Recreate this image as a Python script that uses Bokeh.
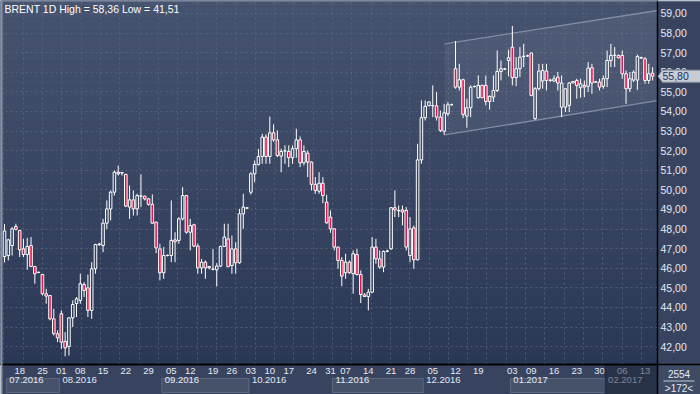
from bokeh.plotting import figure
from bokeh.models import FixedTicker, LinearAxis, Label, ColumnDataSource, Range1d, GridBox, Column
from bokeh.core.properties import value
from bokeh.embed import file_html
from bokeh.resources import INLINE

# ---------------- data ----------------
opens = [46.60, 46.65, 47.16, 48.13, 47.93, 46.99, 46.70, 47.16, 46.09, 45.78,
         45.68, 44.70, 44.61, 43.42, 42.66, 43.68, 42.27, 42.01, 43.47, 44.20,
         44.36, 45.17, 45.00, 43.85, 45.97, 47.20, 47.16, 48.30, 49.03, 49.88,
         50.90, 50.86, 50.79, 49.12, 49.49, 49.03, 49.68, 49.68, 49.54, 49.26,
         48.35, 46.99, 45.77, 46.65, 46.65, 47.45, 47.42, 48.52, 49.71, 47.84,
         48.22, 47.13, 46.02, 46.31, 46.09, 45.96, 45.92, 46.11, 47.11, 47.50,
         46.14, 46.99, 46.28, 48.78, 49.07, 49.88, 50.82, 51.30, 51.70, 52.69,
         51.70, 52.91, 52.55, 51.72, 51.98, 51.96, 51.64, 52.10, 52.55, 51.38,
         51.87, 51.42, 50.28, 49.93, 50.34, 49.37, 48.61, 48.01, 47.08, 46.40,
         45.77, 46.31, 45.72, 46.70, 45.68, 44.64, 44.56, 44.78, 47.08, 46.48,
         46.06, 46.86, 46.99, 49.09, 48.93, 48.98, 48.95, 46.65, 48.06, 46.43,
         51.53, 53.68, 54.29, 54.29, 54.29, 53.71, 52.99, 53.88, 54.34, 56.18,
         55.24, 55.62, 53.76, 54.19, 55.27, 54.70, 55.33, 55.33, 54.51, 54.73,
         55.07, 56.04, 56.16, 56.60, 57.28, 55.72, 56.18, 56.80, 56.83, 56.98,
         53.63, 55.16, 55.55, 56.06, 55.58, 55.55, 55.75, 54.22, 54.22, 54.31,
         55.45, 55.58, 55.21, 55.33, 55.28, 56.23, 55.50, 55.50, 55.28, 55.67,
         56.60, 56.86, 56.86, 56.86, 55.92, 55.16, 55.60, 55.60, 56.72, 56.69,
         55.58, 55.95]
highs = [48.25, 47.50, 48.10, 48.27, 47.95, 47.50, 47.55, 47.59, 46.12, 45.82,
         45.70, 44.95, 44.63, 43.93, 42.83, 43.85, 42.74, 43.51, 44.36, 44.53,
         45.72, 45.29, 45.68, 46.31, 47.25, 47.30, 48.52, 49.46, 49.97, 50.99,
         51.24, 50.90, 50.82, 50.22, 49.97, 49.80, 50.79, 49.70, 49.59, 49.77,
         48.38, 47.25, 47.08, 46.70, 49.46, 47.84, 48.61, 50.14, 49.74, 48.52,
         48.27, 47.25, 46.48, 46.40, 46.10, 46.99, 46.26, 47.16, 48.27, 48.27,
         47.67, 47.33, 49.03, 49.80, 49.12, 50.90, 51.50, 52.09, 52.86, 52.83,
         53.74, 53.34, 53.03, 52.10, 52.27, 52.27, 52.27, 53.12, 52.72, 52.27,
         52.01, 51.45, 50.65, 50.90, 50.65, 49.75, 48.95, 48.05, 47.10, 46.57,
         46.74, 46.40, 46.91, 46.99, 45.89, 44.73, 44.95, 47.59, 47.50, 46.91,
         46.91, 46.95, 49.12, 49.97, 49.20, 49.20, 49.12, 48.61, 48.18, 52.35,
         54.56, 54.56, 54.52, 55.33, 54.99, 54.05, 54.39, 54.48, 54.40, 57.59,
         56.43, 55.67, 54.65, 55.33, 55.32, 55.84, 55.36, 55.84, 54.82, 55.84,
         57.11, 56.60, 56.22, 57.15, 58.36, 56.77, 57.28, 57.45, 56.90, 57.00,
         55.24, 56.43, 56.43, 56.43, 55.67, 55.84, 56.01, 55.84, 55.16, 55.50,
         55.55, 55.67, 55.67, 55.58, 56.52, 56.43, 55.55, 55.67, 55.84, 57.11,
         57.45, 57.28, 56.90, 57.11, 56.09, 56.01, 56.10, 56.90, 56.80, 56.77,
         56.43, 56.26]
lows = [46.30, 46.40, 46.65, 47.93, 46.57, 46.57, 45.92, 46.06, 45.21, 45.76,
        44.61, 44.19, 43.34, 42.57, 42.23, 41.89, 41.51, 41.55, 43.00, 43.51,
        44.19, 44.53, 43.51, 43.42, 45.72, 47.15, 46.82, 48.00, 48.44, 49.71,
        50.73, 50.73, 49.12, 48.52, 48.69, 48.69, 49.12, 49.46, 49.20, 48.27,
        46.77, 45.38, 45.46, 46.60, 46.31, 46.31, 47.25, 48.44, 47.76, 46.91,
        47.08, 45.72, 45.72, 45.46, 45.94, 45.89, 45.07, 46.06, 47.08, 46.06,
        45.72, 45.72, 46.23, 48.01, 49.03, 49.76, 50.39, 51.24, 51.33, 51.33,
        51.33, 52.45, 51.67, 50.90, 51.33, 51.16, 51.33, 51.64, 51.16, 51.24,
        50.65, 49.97, 49.80, 49.80, 49.32, 48.27, 47.81, 46.91, 45.97, 45.09,
        45.46, 45.72, 44.70, 45.63, 44.22, 44.53, 43.85, 44.73, 46.23, 45.97,
        45.80, 46.82, 46.94, 48.61, 48.61, 48.19, 46.91, 46.31, 45.97, 46.40,
        51.33, 53.54, 54.26, 53.71, 53.54, 52.94, 52.81, 53.76, 54.30, 55.16,
        55.07, 53.66, 53.17, 53.71, 55.22, 54.65, 54.68, 54.31, 54.09, 54.48,
        54.99, 55.58, 56.12, 55.79, 55.33, 55.29, 55.75, 56.26, 56.78, 54.77,
        53.57, 55.07, 55.16, 55.07, 55.50, 55.50, 55.07, 53.71, 53.97, 53.97,
        55.45, 54.65, 54.70, 54.73, 54.99, 54.90, 55.45, 55.07, 55.16, 55.24,
        56.26, 56.26, 56.70, 55.67, 54.39, 54.99, 55.50, 55.10, 56.70, 55.41,
        55.41, 55.58]
closes = [47.90, 47.45, 48.01, 47.99, 46.94, 46.70, 47.11, 46.09, 45.72, 45.80,
          44.70, 44.58, 43.42, 42.66, 42.45, 42.23, 41.94, 43.47, 44.15, 44.44,
          45.21, 44.87, 43.85, 45.97, 47.21, 47.23, 48.30, 49.03, 49.88, 50.90,
          50.82, 50.88, 49.17, 49.49, 49.03, 49.71, 49.69, 49.54, 49.26, 48.30,
          47.04, 45.77, 46.65, 46.66, 47.42, 47.35, 48.52, 49.71, 47.84, 48.18,
          47.13, 46.02, 46.31, 46.02, 46.02, 45.95, 46.11, 47.11, 47.59, 46.08,
          46.99, 46.28, 48.78, 49.12, 49.08, 50.82, 51.30, 51.70, 52.69, 51.70,
          52.91, 52.55, 51.75, 51.96, 51.99, 51.64, 52.10, 52.55, 51.38, 51.96,
          51.42, 50.28, 49.97, 50.34, 49.71, 48.32, 48.01, 47.08, 46.40, 45.60,
          46.31, 45.77, 46.74, 45.68, 44.66, 44.56, 44.78, 47.08, 46.48, 46.06,
          46.86, 46.88, 49.09, 48.98, 48.95, 48.87, 47.08, 48.01, 46.43, 51.53,
          53.68, 54.26, 54.49, 54.30, 53.71, 53.03, 53.93, 54.34, 54.35, 55.24,
          55.62, 53.85, 54.19, 55.24, 55.28, 55.33, 54.70, 54.51, 54.77, 55.07,
          56.04, 56.18, 56.17, 56.74, 55.72, 56.18, 56.77, 56.82, 56.84, 54.82,
          55.16, 56.06, 56.09, 55.58, 55.60, 55.67, 55.45, 55.45, 55.16, 55.45,
          55.53, 55.33, 55.41, 55.24, 56.21, 55.45, 55.51, 55.24, 55.67, 56.60,
          56.86, 56.87, 56.74, 55.92, 55.16, 55.67, 56.00, 56.80, 56.75, 55.58,
          55.92, 55.80]

total_bars = 2554
price_ticks = [42, 43, 44, 45, 46, 47, 48, 49, 50, 51, 52, 53, 54, 55, 56, 57, 58, 59]
price_tick_labels = ["42,00", "43,00", "44,00", "45,00", "46,00", "47,00", "48,00", "49,00",
                     "50,00", "51,00", "52,00", "53,00", "54,00", "55,00", "56,00", "57,00",
                     "58,00", "59,00"]
week_bars = [4, 10, 15, 20, 26, 32, 38, 44, 49, 55, 60, 65, 70, 75, 81, 86, 90, 96, 102, 107,
             113, 119, 125, 134, 139, 145, 151, 157, 163, 169]
week_labels = ["18", "25", "01", "08", "15", "22", "29", "05", "12", "19", "26", "03", "10", "17",
               "24", "31", "07", "14", "21", "28", "05", "12", "19", "03", "09", "16", "23", "30",
               "06", "13"]
month_start_bars = [1, 15, 42, 65, 87, 111, 134, 159]
month_labels = ["07.2016", "08.2016", "09.2016", "10.2016", "11.2016", "12.2016", "01.2017", "02.2017"]
# trend channel drawn on the chart (bar index, price)
channel_bars = [116.1, 172.3]
channel_upper = [57.45, 59.15]
channel_lower = [52.80, 54.55]

# ---------------- geometry / styling ----------------
FONT = "Liberation Sans"
X0, X1 = -1.06, 172.3
Y0, Y1 = 41.09, 59.66
W, H = 700, 394
FRAME_W, FRAME_H = 657, 364
UX = (X1 - X0) / FRAME_W      # data units per pixel (x)
UY = (Y1 - Y0) / FRAME_H      # data units per pixel (y)
LABEL_COL = "#e3e9f4"
PANEL = "#38445f"

p = figure(width=W, height=H, x_range=Range1d(X0, X1), y_range=Range1d(Y0, Y1),
           y_axis_location="right", output_backend="svg", toolbar_location=None,
           min_border_left=0, min_border_top=0, min_border_right=W - FRAME_W,
           min_border_bottom=H - FRAME_H, title_location=None,
           background_fill_color="#3a4764", border_fill_color=PANEL,
           outline_line_color=None)

# vertical gradient background of the chart area
n_bands = 60
top_rgb = (0x47, 0x54, 0x70)
bot_rgb = (0x2b, 0x38, 0x55)
b_bottom, b_top, b_col = [], [], []
for k in range(n_bands):
    t = (k + 0.5) / n_bands
    r = [round(top_rgb[j] + (bot_rgb[j] - top_rgb[j]) * t) for j in range(3)]
    b_top.append(Y1 - (Y1 - Y0) * k / n_bands)
    b_bottom.append(Y1 - (Y1 - Y0) * (k + 1) / n_bands)
    b_col.append("#%02x%02x%02x" % tuple(r))
p.quad(left=X0, right=X1, bottom=b_bottom, top=b_top, fill_color=b_col,
       line_color=b_col, line_width=0.5, level="image")

# grid
grid_x = [-0.19 + 5.1 * k for k in range(35)]
p.xgrid.ticker = FixedTicker(ticks=grid_x)
p.ygrid.ticker = FixedTicker(ticks=price_ticks)
for g in (p.xgrid, p.ygrid):
    g.grid_line_color = "#5b6881"
    g.grid_line_dash = "2 3"
    g.grid_line_width = 1
    g.grid_line_alpha = 0.75

# trend channel
p.patch(x=[channel_bars[0], channel_bars[1], channel_bars[1], channel_bars[0]],
        y=[channel_upper[0], channel_upper[1], channel_lower[1], channel_lower[0]],
        fill_color="white", fill_alpha=0.055, line_color=None)
p.line(x=channel_bars, y=channel_upper, line_color="#8f9ab0", line_width=1.3, line_alpha=0.8)
p.line(x=channel_bars, y=channel_lower, line_color="#8f9ab0", line_width=1.3, line_alpha=0.8)

# candles
idx = list(range(len(opens)))
body_top = [max(o, c) for o, c in zip(opens, closes)]
body_bot = [min(o, c) for o, c in zip(opens, closes)]
fill = ["#e3124b" if c < o else "#2f3c59" for o, c in zip(opens, closes)]
alpha = [1.0 if c < o else 0.0 for o, c in zip(opens, closes)]
src = ColumnDataSource(dict(x=idx, high=highs, low=lows, top=body_top, bottom=body_bot,
                            fill=fill, alpha=alpha))
p.segment(x0="x", y0="high", x1="x", y1="top", source=src, line_color="white", line_width=1)
p.segment(x0="x", y0="bottom", x1="x", y1="low", source=src, line_color="white", line_width=1)
p.vbar(x="x", width=0.68, top="top", bottom="bottom", source=src, fill_color="fill",
       fill_alpha="alpha", line_color="white", line_width=1)

# title inside the chart
title = "BRENT 1D High = %s Low = %s" % (("%.2f" % max(highs)).replace(".", ","),
                                         ("%.2f" % min(lows)).replace(".", ","))
p.add_layout(Label(x=X0, y=Y1, x_offset=4, y_offset=-2, text=title, text_baseline="top",
                   text_color="white", text_font=FONT, text_font_size="10.5px"))

# right price axis
ya = p.yaxis[0]
ya.ticker = FixedTicker(ticks=price_ticks)
ya.major_label_overrides = dict(zip(price_ticks, price_tick_labels))
ya.major_label_text_color = LABEL_COL
ya.major_label_text_font = FONT
ya.major_label_text_font_size = "10.5px"
ya.major_tick_line_color = None
ya.minor_tick_line_color = None
ya.major_tick_out = 0
ya.major_tick_in = 0
ya.minor_tick_out = 0
ya.axis_line_color = "black"
ya.axis_line_width = 1.5
ya.major_label_standoff = 3

# bottom week axis
xa = p.xaxis[0]
xa.ticker = FixedTicker(ticks=week_bars)
xa.major_label_overrides = dict(zip(week_bars, week_labels))
xa.major_label_text_color = LABEL_COL
xa.major_label_text_font = FONT
xa.major_label_text_font_size = "9.5px"
xa.major_tick_line_color = None
xa.minor_tick_line_color = None
xa.major_tick_out = 0
xa.major_tick_in = 0
xa.minor_tick_out = 0
xa.axis_line_color = "black"
xa.axis_line_width = 1.5
xa.major_label_standoff = 3

# bottom month axis (labels sit just right of each month's first bar)
month_pos = [round(b - 0.5 + 5.3, 2) for b in month_start_bars]
ma = LinearAxis(ticker=FixedTicker(ticks=month_pos),
                major_label_overrides=dict(zip(month_pos, month_labels)),
                major_label_text_color=LABEL_COL, major_label_text_font=FONT,
                major_label_text_font_size="9.5px", major_tick_line_color=None,
                minor_tick_line_color=None, major_tick_out=0, major_tick_in=0,
                minor_tick_out=0, axis_line_color=None, major_label_standoff=0)
p.add_layout(ma, "below")

# ---------------- overlay figure (same canvas, same scales) ----------------
QX1 = X0 + UX * W
QY0 = Y1 - UY * H
q = figure(width=W, height=H, x_range=Range1d(X0, QX1), y_range=Range1d(QY0, Y1),
           x_axis_location=None, y_axis_location=None, output_backend="svg",
           toolbar_location=None, title_location=None,
           min_border=0, min_border_left=0, min_border_right=0, min_border_top=0,
           min_border_bottom=0, background_fill_alpha=0,
           border_fill_alpha=0, outline_line_color=None)
q.grid.visible = False

# month boxes on every other month (Jul, Sep, Nov, Jan)
mb_left, mb_right = [], []
for k in range(0, len(month_start_bars) - 1, 2):
    mb_left.append(month_start_bars[k] - 0.5)
    mb_right.append(month_start_bars[k + 1] - 0.5)
q.quad(left=mb_left, right=mb_right, top=Y0 - 14 * UY, bottom=Y0 - 28 * UY,
       fill_color="white", fill_alpha=0.07, line_color="white", line_alpha=0.16)

# last (future) month darkened
q.quad(left=month_start_bars[-1] - 0.5, right=X1, top=Y0 - 1 * UY, bottom=QY0,
       fill_color="#161e30", fill_alpha=0.5, line_color="#1a2234", line_alpha=0.8)

# black separators continued through the corner
q.segment(x0=[X1, X0], y0=[Y0, Y0], x1=[X1, QX1], y1=[QY0, Y0], line_color="black",
          line_width=1.5)

# bar counter corner
q.quad(left=X1 + 1 * UX, right=QX1, top=Y0 - 1 * UY, bottom=QY0,
       fill_color="white", fill_alpha=0.04, line_color=None)
q.text(x=[X1 + 21.5 * UX, X1 + 21.5 * UX], y=[Y0 - 9 * UY, Y0 - 24 * UY],
       text=[str(total_bars), ">%d<" % len(opens)], text_align="center",
       text_baseline="middle", text_color=LABEL_COL, text_font=value(FONT),
       text_font_size="10px")
q.segment(x0=X1 + 6 * UX, y0=Y0 - 16.5 * UY, x1=X1 + 37 * UX, y1=Y0 - 16.5 * UY,
          line_color=LABEL_COL, line_width=1, line_alpha=0.8)

# last price tag
last = closes[-1]
last_txt = ("%.2f" % last).replace(".", ",")
q.patch(x=[X1 + 0.5 * UX, X1 + 5 * UX, QX1, QX1, X1 + 5 * UX],
        y=[last, last + 6 * UY, last + 6 * UY, last - 6 * UY, last - 6 * UY],
        fill_color="#c8ccd5", line_color="#8e97a8", line_width=1)
q.text(x=[X1 + 5 * UX], y=[last], text=[last_txt], text_align="left",
       text_baseline="middle", text_color="#1b2f5e", text_font=value(FONT),
       text_font_size="10.5px")

# thin light frame on the left/top edge
q.quad(left=X0, right=X0 + 2 * UX, top=Y1, bottom=QY0, fill_color="#8893a8",
       line_color=None)
q.quad(left=X0, right=QX1, top=Y1, bottom=Y1 - 1 * UY, fill_color="#8893a8",
       line_color=None)

# overlay sits in the same grid cell; wrapped so its frame is not aligned to p's
layout = GridBox(children=[(p, 0, 0), (Column(children=[q]), 0, 0)])
open("out.html", "w").write(file_html(layout, INLINE))
